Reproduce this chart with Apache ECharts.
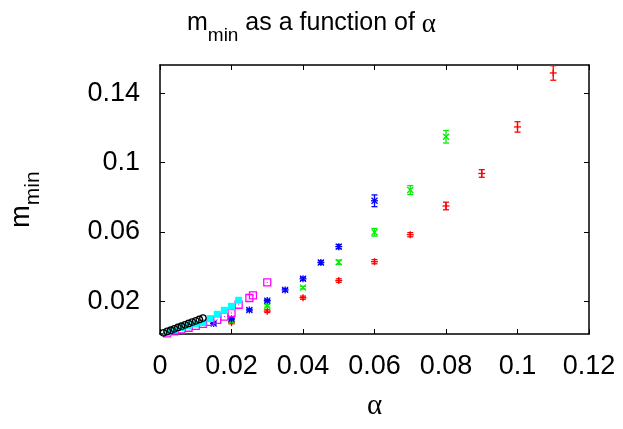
<!DOCTYPE html>
<html>
<head>
<meta charset="utf-8">
<script src="https://cdn.jsdelivr.net/npm/echarts@6/dist/echarts.min.js"></script>
<style>
html,body{margin:0;padding:0;background:#fff;}
#chart{width:623px;height:429px;}
</style>
</head>
<body>
<div id="chart"></div>
<script>
// ---- data ----
const xTickValues = [0, 0.02, 0.04, 0.06, 0.08, 0.1, 0.12];
const yTickValues = [0.02, 0.06, 0.1, 0.14];

const redX   = [0.02, 0.03, 0.04, 0.05, 0.06, 0.07, 0.08, 0.09, 0.10, 0.11];
const redY   = [0.0075, 0.0142, 0.0220, 0.0319, 0.0428, 0.0584, 0.0750, 0.0938, 0.1207, 0.1519];
const redErr = [0.0006, 0.0008, 0.0009, 0.0010, 0.0012, 0.0012, 0.0022, 0.0022, 0.0030, 0.0042];

const greenX   = [0.02, 0.03, 0.04, 0.05, 0.06, 0.07, 0.08];
const greenY   = [0.0085, 0.0173, 0.0278, 0.0425, 0.0598, 0.0842, 0.1150];
const greenErr = [0.0005, 0.0007, 0.0008, 0.0012, 0.0022, 0.0026, 0.0036];

const blueX   = [0.015, 0.02, 0.025, 0.03, 0.035, 0.04, 0.045, 0.05, 0.06];
const blueY   = [0.0071, 0.0098, 0.0149, 0.0203, 0.0265, 0.0329, 0.0423, 0.0515, 0.0780];
const blueErr = [0.0004, 0.0005, 0.0006, 0.0007, 0.0008, 0.0009, 0.0010, 0.0012, 0.0034];

const magentaX = [0.002, 0.004, 0.006, 0.008, 0.010, 0.012, 0.014, 0.016, 0.018, 0.020, 0.022, 0.025, 0.026, 0.030];
const magentaY = [0.0014, 0.0025, 0.0036, 0.0046, 0.0057, 0.0069, 0.0080, 0.0092, 0.0111, 0.0131, 0.0179, 0.0218, 0.0233, 0.0308];

const cyanX = [0.002, 0.004, 0.006, 0.008, 0.010, 0.012, 0.014, 0.016, 0.018, 0.020, 0.022];
const cyanY = [0.0019, 0.0033, 0.0046, 0.0058, 0.0068, 0.0076, 0.0099, 0.0124, 0.0147, 0.0170, 0.0205];

const blackX = [0.001, 0.002, 0.003, 0.004, 0.005, 0.006, 0.007, 0.008, 0.009, 0.010, 0.011, 0.012];
const blackY = [0.0017, 0.0025, 0.0032, 0.0040, 0.0048, 0.0055, 0.0063, 0.0071, 0.0079, 0.0086, 0.0094, 0.0102];

// ---- rendering ----
const X_MIN = 0, X_MAX = 0.12, Y_MIN = 0.001, Y_MAX = 0.1565;
const FONT = 'Liberation Sans, Arial, Helvetica, sans-serif';
const SERIF = 'Liberation Serif, Times New Roman, serif';

function pack(xs, ys, es) {
  return xs.map((x, i) => [x, ys[i], es ? es[i] : 0]);
}

function makeRender(shape, color) {
  return function (params, api) {
    const x = api.value(0), y = api.value(1), e = api.value(2);
    const p = api.coord([x, y]);
    const cx = p[0], cy = p[1];
    const ch = [];
    const st = { stroke: color, lineWidth: 1.3, fill: null };
    function ln(x1, y1, x2, y2) {
      ch.push({ type: 'line', shape: { x1, y1, x2, y2 }, style: st });
    }
    if (e > 0) {
      const pt = api.coord([x, y + e])[1], pb = api.coord([x, y - e])[1];
      ln(cx, pt, cx, pb);
      ln(cx - 3, pt, cx + 3, pt);
      ln(cx - 3, pb, cx + 3, pb);
    }
    const s = 3.5;
    if (shape === 'plus' || shape === 'star') {
      ln(cx - s, cy, cx + s, cy);
      ln(cx, cy - s, cx, cy + s);
    }
    if (shape === 'cross' || shape === 'star') {
      const d = 3;
      ln(cx - d, cy - d, cx + d, cy + d);
      ln(cx - d, cy + d, cx + d, cy - d);
    }
    if (shape === 'osquare') {
      ch.push({ type: 'rect', shape: { x: cx - 3.5, y: cy - 3.5, width: 7, height: 7 }, style: { stroke: color, lineWidth: 1.3, fill: null } });
      ch.push({ type: 'rect', shape: { x: cx - 0.5, y: cy - 0.5, width: 1, height: 1 }, style: { fill: color } });
    }
    if (shape === 'fsquare') {
      ch.push({ type: 'rect', shape: { x: cx - 3.5, y: cy - 3.5, width: 7, height: 7 }, style: { fill: color } });
    }
    if (shape === 'ocircle') {
      ch.push({ type: 'circle', shape: { cx, cy, r: 3.2 }, style: { stroke: color, lineWidth: 1.3, fill: null } });
    }
    return { type: 'group', children: ch };
  };
}

function series(name, data, shape, color, z) {
  return {
    type: 'custom', name, data, z,
    xAxisIndex: 0, yAxisIndex: 0,
    encode: { x: 0, y: 1 },
    clip: false,
    renderItem: makeRender(shape, color)
  };
}

const axisLineStyle = { show: true, onZero: false, lineStyle: { color: '#000', width: 1.5 } };

const option = {
  backgroundColor: '#fff',
  animation: false,
  title: {
    text: '{m|m}{s|min}{m| as a function of }{a|α}',
    left: 'center',
    top: 6,
    textStyle: {
      fontWeight: 'normal',
      rich: {
        m: { fontSize: 25, fontFamily: FONT, fontWeight: 'normal', color: '#000', lineHeight: 28, verticalAlign: 'top' },
        a: { fontSize: 27, fontFamily: SERIF, fontWeight: 'normal', color: '#000', lineHeight: 28, verticalAlign: 'top' },
        s: { fontSize: 19, fontFamily: FONT, fontWeight: 'normal', color: '#000', lineHeight: 19, padding: [15, 0, 0, 0], verticalAlign: 'top' }
      }
    }
  },
  grid: { left: 158, right: 34, top: 65, bottom: 95 },
  xAxis: [
    {
      type: 'value', min: X_MIN, max: X_MAX, position: 'bottom',
      axisLine: axisLineStyle,
      axisTick: { show: true, inside: true, length: 5, customValues: xTickValues, lineStyle: { color: '#000', width: 1 } },
      axisLabel: { customValues: xTickValues, fontSize: 27, fontFamily: FONT, color: '#000', margin: 19 },
      splitLine: { show: false },
      name: 'α', nameLocation: 'middle', nameGap: 58,
      nameTextStyle: { fontSize: 29, fontFamily: SERIF, color: '#000' }
    },
    {
      type: 'value', min: X_MIN, max: X_MAX, position: 'top',
      axisLine: axisLineStyle,
      axisTick: { show: true, inside: true, length: 5, customValues: xTickValues, lineStyle: { color: '#000', width: 1 } },
      axisLabel: { show: false },
      splitLine: { show: false }
    }
  ],
  yAxis: [
    {
      type: 'value', min: Y_MIN, max: Y_MAX, position: 'left',
      axisLine: axisLineStyle,
      axisTick: { show: true, inside: true, length: 5, customValues: yTickValues, lineStyle: { color: '#000', width: 1 } },
      axisLabel: { customValues: yTickValues, fontSize: 27, fontFamily: FONT, color: '#000', margin: 20 },
      splitLine: { show: false },
      name: '{m|m}{s|min}', nameLocation: 'middle', nameGap: 122, nameRotate: 90,
      nameTextStyle: {
        rich: {
          m: { fontSize: 27, fontFamily: FONT, color: '#000', lineHeight: 30, verticalAlign: 'top' },
          s: { fontSize: 21, fontFamily: FONT, color: '#000', lineHeight: 21, padding: [15, 0, 0, 0], verticalAlign: 'top' }
        }
      }
    },
    {
      type: 'value', min: Y_MIN, max: Y_MAX, position: 'right',
      axisLine: axisLineStyle,
      axisTick: { show: true, inside: true, length: 5, customValues: yTickValues, lineStyle: { color: '#000', width: 1 } },
      axisLabel: { show: false },
      splitLine: { show: false }
    }
  ],
  series: [
    series('red', pack(redX, redY, redErr), 'plus', '#ff0000', 2),
    series('green', pack(greenX, greenY, greenErr), 'cross', '#00ee00', 3),
    series('blue', pack(blueX, blueY, blueErr), 'star', '#0000ff', 4),
    series('magenta', pack(magentaX, magentaY), 'osquare', '#ff00ff', 5),
    series('cyan', pack(cyanX, cyanY), 'fsquare', '#00ffff', 6),
    series('black', pack(blackX, blackY), 'ocircle', '#000000', 7)
  ]
};

const chart = echarts.init(document.getElementById('chart'), null, { renderer: 'canvas' });
chart.setOption(option);
</script>
</body>
</html>
